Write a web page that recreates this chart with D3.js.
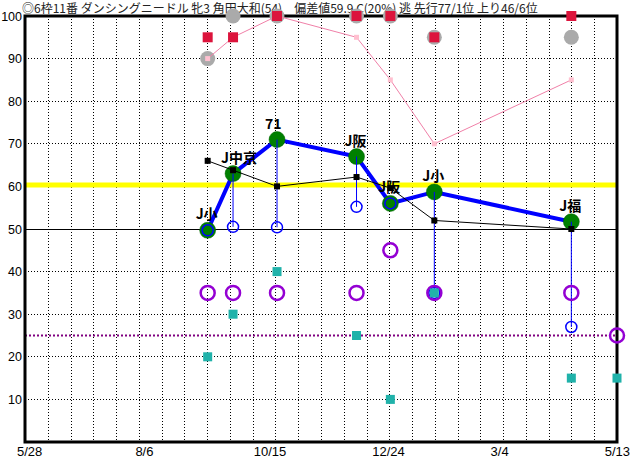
<!DOCTYPE html>
<html>
<head>
<meta charset="utf-8">
<script src="https://cdn.jsdelivr.net/npm/d3@7"></script>
<style>
  html, body { margin: 0; padding: 0; background: #fff; }
  svg { display: block; }
</style>
</head>
<body>
<svg id="chart" width="632" height="460"></svg>
<script>
// ---- data ----
const titleText = "◎6枠11番 ダンシングニードル 牝3 角田大和(54)\u3000偏差値59.9 C(20%) 逃 先行77/1位 上り46/6位";
const raceDates = ["2022-09-13", "2022-09-28", "2022-10-24", "2022-12-10", "2022-12-30", "2023-01-25", "2023-04-16"];
const raceLabels = ["J小", "J中京", "71", "J阪", "J阪", "J小", "J福"];
const indexValues = [49.7, 63, 71, 67, 56, 58.7, 51.7];        // green circles + blue line
const blackValues = [66, 63.8, 60, 62.2, 59.6, 52, 50];         // black squares + thin line
const blueValues = [49.7, 50.5, 50.4, 55.2, 56, 35, 27];        // blue open circles
const purpleValues = [35, 35, 35, 35, 45, 35, 35];              // purple rings
const cyanValues = [20, 30, 40, 25, 10, 35, 15];                // teal squares
const redValues = [95, 95, 100, 100, 100, 95, 100];             // red squares
const grayValues = [90, 100, 100, 100, 100, 95, 95];            // gray circles
const pinkValues = [90, 95, 100, 95, 85, 70, 85];               // pink line
const targetDate = "2023-05-13";
const targetPurple = 25;
const targetCyan = 15;
const yellowLevel = 60.3;
const dottedLevel = 25;
const yTicks = [10, 20, 30, 40, 50, 60, 70, 80, 90, 100];
const xTickDates = ["2022-05-28", "2022-08-06", "2022-10-15", "2022-12-24", "2023-03-04", "2023-05-13"];
const xTickLabels = ["5/28", "8/6", "10/15", "12/24", "3/4", "5/13"];
const startDate = "2022-05-28";

// ---- setup ----
const parse = d3.utcParse("%Y-%m-%d");
const svg = d3.select("#chart");
const L = 25, R = 617, T = 16, B = 442;
const x = d3.scaleUtc().domain([parse(startDate), parse(targetDate)]).range([L, R]);
const y = d3.scaleLinear().domain([0, 100]).range([B, T]);
const rx = raceDates.map(d => x(parse(d)));

const jp = "'Noto Sans CJK JP', sans-serif";
const num = "'Liberation Sans', Arial, sans-serif";

// title
svg.append("text").attr("x", 22).attr("y", 13)
  .attr("font-family", jp).attr("font-size", 12).attr("fill", "#222")
  .text(titleText);

// horizontal grid
const gridY = yTicks.filter(v => v !== 50 && v !== 100);
svg.append("g").selectAll("line").data(gridY).join("line")
  .attr("x1", L).attr("x2", R).attr("y1", d => y(d)).attr("y2", d => y(d))
  .attr("stroke", "#000").attr("stroke-width", 1).attr("stroke-dasharray", "1,2")
  .attr("shape-rendering", "crispEdges");
// vertical grid (26 divisions)
const vDiv = d3.range(1, 26).map(i => L + i * (R - L) / 26);
svg.append("g").selectAll("line").data(vDiv).join("line")
  .attr("x1", d => Math.round(d) + 0.5).attr("x2", d => Math.round(d) + 0.5).attr("y1", T).attr("y2", B)
  .attr("stroke", "#000").attr("stroke-width", 1).attr("stroke-dasharray", "1,2")
  .attr("shape-rendering", "crispEdges");
// solid 50 line
svg.append("line").attr("x1", L).attr("x2", R).attr("y1", y(50)).attr("y2", y(50))
  .attr("stroke", "#000").attr("stroke-width", 1).attr("shape-rendering", "crispEdges");
// yellow line
svg.append("line").attr("x1", L).attr("x2", R).attr("y1", y(yellowLevel)).attr("y2", y(yellowLevel))
  .attr("stroke", "#ffff00").attr("stroke-width", 5);
// purple dotted line
svg.append("line").attr("x1", L).attr("x2", R).attr("y1", y(dottedLevel)).attr("y2", y(dottedLevel))
  .attr("stroke", "#800080").attr("stroke-width", 2).attr("stroke-dasharray", "2,2");

// frame
svg.append("rect").attr("x", L).attr("y", T).attr("width", R - L).attr("height", B - T)
  .attr("fill", "none").attr("stroke", "#000").attr("stroke-width", 3);

// y labels
svg.append("g").selectAll("text").data(yTicks).join("text")
  .attr("x", 22).attr("y", d => y(d) + 4.5).attr("text-anchor", "end")
  .attr("font-family", num).attr("font-size", 12.5).attr("fill", "#000")
  .text(d => d);
// x labels
svg.append("g").selectAll("text").data(xTickDates).join("text")
  .attr("x", (d, i) => i === xTickDates.length - 1 ? 630 : x(parse(d)) - 8)
  .attr("y", 456)
  .attr("text-anchor", (d, i) => i === xTickDates.length - 1 ? "end" : "start")
  .attr("font-family", num).attr("font-size", 13).attr("fill", "#000")
  .text((d, i) => xTickLabels[i]);

// gray circles
svg.append("g").selectAll("circle").data(grayValues).join("circle")
  .attr("cx", (d, i) => rx[i]).attr("cy", d => y(d)).attr("r", 7.5).attr("fill", "#aaaaaa");
// pink line + squares
svg.append("path").datum(pinkValues)
  .attr("d", d3.line().x((d, i) => rx[i]).y(d => y(d)))
  .attr("fill", "none").attr("stroke", "#f080a8").attr("stroke-width", 1);
svg.append("g").selectAll("rect").data(pinkValues).join("rect")
  .attr("x", (d, i) => rx[i] - 2.5).attr("y", d => y(d) - 2.5).attr("width", 5).attr("height", 5)
  .attr("fill", "#ffc0d0");
// red squares
svg.append("g").selectAll("rect").data(redValues).join("rect")
  .attr("x", (d, i) => rx[i] - 5).attr("y", d => y(d) - 5).attr("width", 10).attr("height", 10)
  .attr("fill", "#dc143c");

// blue thick line
svg.append("path").datum(indexValues)
  .attr("d", d3.line().x((d, i) => rx[i]).y(d => y(d)))
  .attr("fill", "none").attr("stroke", "#0000ff").attr("stroke-width", 4);
// green circles
svg.append("g").selectAll("circle").data(indexValues).join("circle")
  .attr("cx", (d, i) => rx[i]).attr("cy", d => y(d)).attr("r", 8)
  .attr("fill", "#008000").attr("stroke", "#006400").attr("stroke-width", 0.5);
// blue verticals
svg.append("g").selectAll("line").data(blueValues).join("line")
  .attr("x1", (d, i) => rx[i]).attr("x2", (d, i) => rx[i])
  .attr("y1", (d, i) => y(indexValues[i])).attr("y2", d => y(d))
  .attr("stroke", "#0000ff").attr("stroke-width", 1);
// blue open circles
svg.append("g").selectAll("circle").data(blueValues).join("circle")
  .attr("cx", (d, i) => rx[i]).attr("cy", d => y(d)).attr("r", 5.5)
  .attr("fill", "none").attr("stroke", "#0000ff").attr("stroke-width", 1.5);

// black line + squares
svg.append("path").datum(blackValues)
  .attr("d", d3.line().x((d, i) => rx[i]).y(d => y(d)))
  .attr("fill", "none").attr("stroke", "#000").attr("stroke-width", 1);
svg.append("g").selectAll("rect").data(blackValues).join("rect")
  .attr("x", (d, i) => rx[i] - 3).attr("y", d => y(d) - 3).attr("width", 6).attr("height", 6)
  .attr("fill", "#000");

// purple rings
const tx = x(parse(targetDate));
svg.append("g").selectAll("circle").data(purpleValues).join("circle")
  .attr("cx", (d, i) => rx[i]).attr("cy", d => y(d)).attr("r", 7)
  .attr("fill", "none").attr("stroke", "#9400d3").attr("stroke-width", 2.5);
svg.append("circle").attr("cx", tx).attr("cy", y(targetPurple)).attr("r", 7)
  .attr("fill", "none").attr("stroke", "#9400d3").attr("stroke-width", 2.5);
// teal squares
svg.append("g").selectAll("rect").data(cyanValues).join("rect")
  .attr("x", (d, i) => rx[i] - 4.5).attr("y", d => y(d) - 4.5).attr("width", 9).attr("height", 9)
  .attr("fill", "#20b2aa");
svg.append("rect").attr("x", tx - 4.5).attr("y", y(targetCyan) - 4.5).attr("width", 9).attr("height", 9)
  .attr("fill", "#20b2aa");

// race labels
svg.append("g").selectAll("text").data(raceLabels).join("text")
  .attr("x", (d, i) => rx[i] - 12).attr("y", (d, i) => y(indexValues[i]) - 11)
  .attr("font-family", jp).attr("font-size", 14).attr("font-weight", "bold").attr("fill", "#000")
  .text(d => d);
</script>
</body>
</html>
